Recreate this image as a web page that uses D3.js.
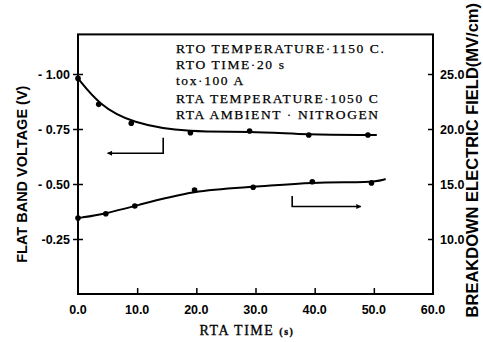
<!DOCTYPE html>
<html>
<head>
<meta charset="utf-8">
<script src="https://cdn.jsdelivr.net/npm/d3@7"></script>
<style>
  body { margin: 0; background: #fff; }
  svg { display: block; }
</style>
</head>
<body>
<svg id="chart" width="483" height="342"></svg>
<script>
// values
const timeFlat = [0, 3.5, 9, 19, 29, 39, 49];
const flatBand = [-0.98, -0.862, -0.776, -0.733, -0.741, -0.723, -0.723];
const flatBandFitEnd = [50.5, -0.723];

const timeField = [0, 4.7, 9.6, 19.7, 29.6, 39.6, 49.6];
const field = [11.9, 12.3, 13.0, 14.45, 14.7, 15.2, 15.1];
const fieldFitEnd = [52, 15.45];

const xTicks = [0, 10, 20, 30, 40, 50, 60];
const xTickLabels = ["0.0", "10.0", "20.0", "30.0", "40.0", "50.0", "60.0"];
const leftTicks = [-1.0, -0.75, -0.5, -0.25];
const leftTickLabels = ["- 1.00", "- 0.75", "- 0.50", "-0.25"];
const rightTicks = [25, 20, 15, 10];
const rightTickLabels = ["25.0", "20.0", "15.0", "10.0"];

const notes = [
  "RTO TEMPERATURE\u00b71150 C.",
  "RTO TIME\u00b720 s",
  "tox\u00b7100 A",
  "RTA TEMPERATURE\u00b71050 C",
  "RTA AMBIENT \u00b7 NITROGEN"
];

// arrows in data units: [x, y] on the corresponding axis
const leftArrow = [[14.4, -0.71], [14.4, -0.64], [5.0, -0.64]];
const rightArrow = [[36.2, 13.9], [36.2, 12.95], [47.8, 12.95]];

const svg = d3.select("#chart");

const x = d3.scaleLinear().domain([0, 60]).range([78, 433]);
const yL = d3.scaleLinear().domain([0, -1.18]).range([294, 34.4]);
const yR = d3.scaleLinear().domain([5, 28.6]).range([294, 34.4]);

const defs = svg.append("defs");
defs.append("marker")
  .attr("id", "head")
  .attr("viewBox", "0 0 10 10")
  .attr("refX", 9).attr("refY", 5)
  .attr("markerWidth", 7).attr("markerHeight", 5)
  .attr("markerUnits", "userSpaceOnUse")
  .attr("orient", "auto")
  .append("path")
  .attr("d", "M0,0 L10,5 L0,10 z")
  .attr("fill", "#000");

// frame
svg.append("rect")
  .attr("x", x(0)).attr("y", yL(-1.18))
  .attr("width", x(60) - x(0)).attr("height", yL(0) - yL(-1.18))
  .attr("fill", "none").attr("stroke", "#000").attr("stroke-width", 2);

// bottom axis
const xAxis = svg.append("g")
  .attr("transform", `translate(0,${yL(0)})`)
  .call(d3.axisBottom(x).tickValues(xTicks.slice(1, 6)).tickSize(-6).tickFormat(""));
xAxis.select(".domain").remove();
xAxis.selectAll("line").attr("stroke-width", 1.5);

svg.append("g")
  .selectAll("text")
  .data(xTicks)
  .join("text")
  .attr("x", d => x(d))
  .attr("y", 314)
  .attr("text-anchor", "middle")
  .attr("font-family", "Liberation Sans, Arial, sans-serif")
  .attr("font-weight", "bold")
  .attr("font-size", 12.5)
  .text((d, i) => xTickLabels[i]);

// left axis
const leftAxis = svg.append("g")
  .attr("transform", `translate(${x(0)},0)`)
  .call(d3.axisLeft(yL).tickValues(leftTicks).tickSize(5).tickPadding(3)
    .tickFormat((d, i) => leftTickLabels[i]));
leftAxis.select(".domain").remove();
leftAxis.selectAll("line").attr("x2", -5).attr("x1", 5).attr("stroke-width", 1.5);
leftAxis.selectAll("text")
  .attr("x", -8)
  .attr("font-family", "Liberation Sans, Arial, sans-serif")
  .attr("font-weight", "bold")
  .attr("font-size", 12.5);

// right axis
const rightAxis = svg.append("g")
  .attr("transform", `translate(${x(60)},0)`)
  .call(d3.axisRight(yR).tickValues(rightTicks).tickSize(-5).tickPadding(8)
    .tickFormat((d, i) => rightTickLabels[i]));
rightAxis.select(".domain").remove();
rightAxis.selectAll("line").attr("stroke-width", 1.5);
rightAxis.selectAll("text")
  .attr("x", 7)
  .attr("font-family", "Liberation Sans, Arial, sans-serif")
  .attr("font-weight", "bold")
  .attr("font-size", 12.5);

// axis titles
svg.append("text")
  .attr("transform", `translate(27,${(yL(0) + yL(-1.18)) / 2 + 10}) rotate(-90)`)
  .attr("text-anchor", "middle")
  .attr("font-family", "Liberation Sans, Arial, sans-serif")
  .attr("font-weight", "bold")
  .attr("font-size", 14.5)
  .text("FLAT BAND VOLTAGE (V)");

svg.append("text")
  .attr("transform", "translate(478,3) rotate(-90)")
  .attr("text-anchor", "end")
  .attr("font-family", "Liberation Sans, Arial, sans-serif")
  .attr("font-weight", "bold")
  .attr("font-size", 16.5)
  .text("BREAKDOWN ELECTRIC FIELD(MV/cm)");

const xTitle = svg.append("text")
  .attr("x", 247).attr("y", 335)
  .attr("text-anchor", "middle")
  .attr("font-family", "Liberation Serif, Times New Roman, serif")
  .attr("font-size", 14)
  .attr("letter-spacing", 1.5)
  .attr("stroke", "#000").attr("stroke-width", 0.3);
xTitle.append("tspan").text("RTA TIME ");
xTitle.append("tspan").attr("font-size", 10).attr("font-weight", "bold").text("(s)");

// annotation block
svg.append("g")
  .selectAll("text")
  .data(notes)
  .join("text")
  .attr("x", 176)
  .attr("y", (d, i) => [53, 69, 85, 103, 119][i])
  .attr("font-family", "Liberation Serif, Times New Roman, serif")
  .attr("font-size", 13.5)
  .attr("letter-spacing", 1.6)
  .attr("stroke", "#000").attr("stroke-width", 0.25)
  .text(d => d);

// flat band voltage curve
const upper = timeFlat.map((t, i) => [t, flatBand[i]]);
svg.append("path")
  .datum(upper.concat([flatBandFitEnd]))
  .attr("fill", "none").attr("stroke", "#000").attr("stroke-width", 2)
  .attr("d", d3.line().x(d => x(d[0])).y(d => yL(d[1])).curve(d3.curveBasis));
svg.append("g")
  .selectAll("circle")
  .data(upper)
  .join("circle")
  .attr("cx", d => x(d[0])).attr("cy", d => yL(d[1])).attr("r", 2.8)
  .attr("fill", "#000");

// breakdown field curve
const lower = timeField.map((t, i) => [t, field[i]]);
svg.append("path")
  .datum(lower.concat([fieldFitEnd]))
  .attr("fill", "none").attr("stroke", "#000").attr("stroke-width", 2)
  .attr("d", d3.line().x(d => x(d[0])).y(d => yR(d[1])).curve(d3.curveBasis));
svg.append("g")
  .selectAll("circle")
  .data(lower)
  .join("circle")
  .attr("cx", d => x(d[0])).attr("cy", d => yR(d[1])).attr("r", 2.8)
  .attr("fill", "#000");

// axis arrows
svg.append("path")
  .datum(leftArrow)
  .attr("fill", "none").attr("stroke", "#000").attr("stroke-width", 1.6)
  .attr("marker-end", "url(#head)")
  .attr("d", d3.line().x(d => x(d[0])).y(d => yL(d[1])));
svg.append("path")
  .datum(rightArrow)
  .attr("fill", "none").attr("stroke", "#000").attr("stroke-width", 1.6)
  .attr("marker-end", "url(#head)")
  .attr("d", d3.line().x(d => x(d[0])).y(d => yR(d[1])));
</script>
</body>
</html>
